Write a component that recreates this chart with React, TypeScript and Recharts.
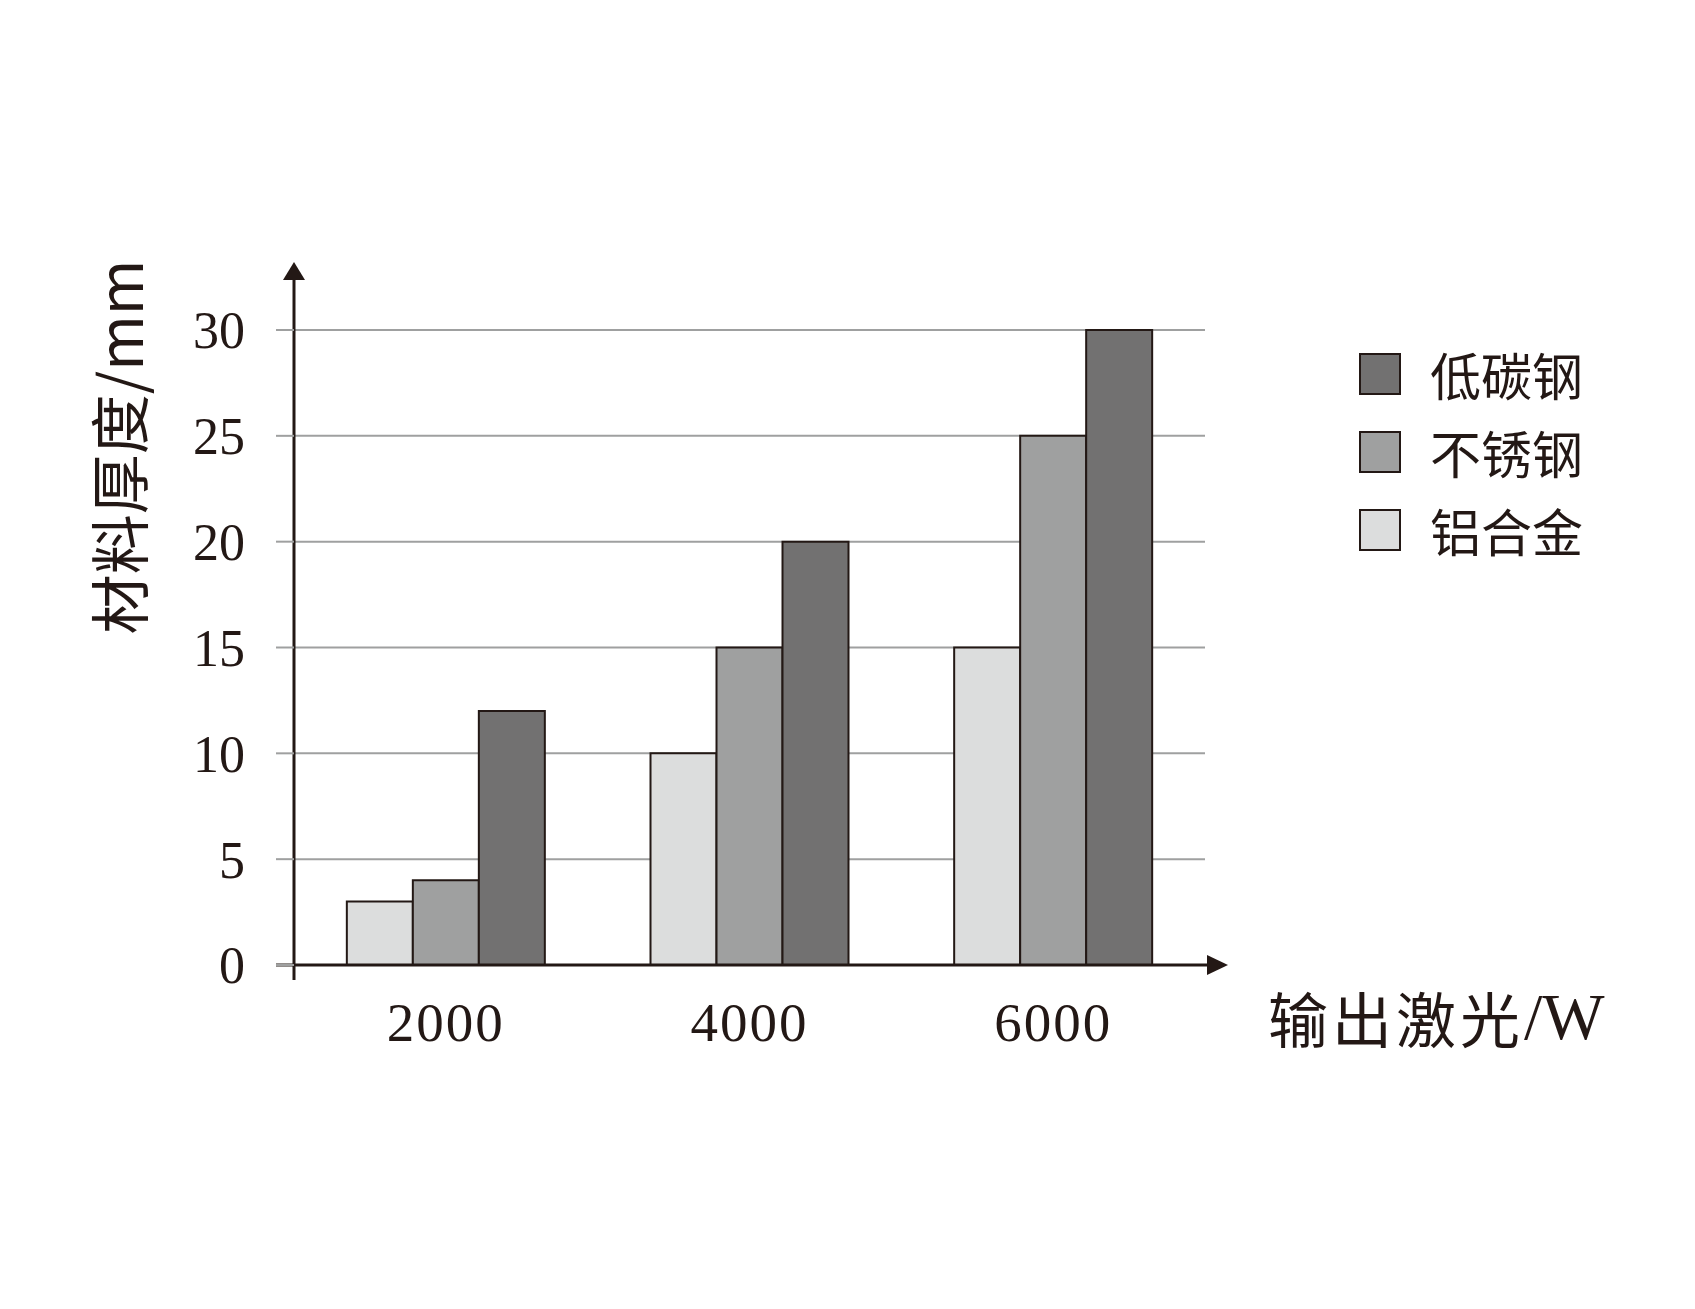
import React from 'react';
import { BarChart, Bar, XAxis, YAxis, CartesianGrid, Legend } from 'recharts';

// 输出功率（W）与各材料可切割厚度（mm）
const powers = ['2000', '4000', '6000'];
const aluminium = [3, 10, 15];
const stainless = [4, 15, 25];
const carbonSteel = [12, 20, 30];
const yTicks = [0, 5, 10, 15, 20, 25, 30];
const legendOrder = ['低碳钢', '不锈钢', '铝合金'];

const data = powers.map((p, i) => ({
  power: p,
  aluminium: aluminium[i],
  stainless: stainless[i],
  carbon: carbonSteel[i],
}));

const INK = '#231815';
const GRID = '#9fa0a0';
const CJK = '"Noto Sans CJK SC", "Noto Sans", sans-serif';
const SERIF = '"Liberation Serif", "DejaVu Serif", serif';

const renderLegend = (props: any) => {
  const items = [...(props.payload || [])].sort(
    (a: any, b: any) => legendOrder.indexOf(a.value) - legendOrder.indexOf(b.value)
  );
  return (
    <div style={{ display: 'flex', flexDirection: 'column', gap: 36 }}>
      {items.map((it: any) => (
        <div key={it.value} style={{ display: 'flex', alignItems: 'center', height: 42 }}>
          <span
            style={{
              width: 38,
              height: 38,
              background: it.color,
              border: `2px solid ${INK}`,
              display: 'inline-block',
            }}
          />
          <span style={{ marginLeft: 29, fontSize: 51, fontFamily: CJK, color: INK, lineHeight: '42px' }}>
            {it.value}
          </span>
        </div>
      ))}
    </div>
  );
};

const yTitle = (props: any) => {
  const vb = props.viewBox || {};
  const cx = vb.x + 22;
  const cy = vb.y + 117;
  return (
    <text
      x={cx}
      y={cy}
      transform={`rotate(-90 ${cx} ${cy})`}
      textAnchor="middle"
      dominantBaseline="central"
      fill={INK}
      fontSize={60}
      fontFamily={CJK}
    >
      材料厚度/mm
    </text>
  );
};

const xTitle = (props: any) => {
  const vb = props.viewBox || {};
  const x = vb.x + vb.width + 63;
  const y = vb.y + vb.height / 2 - 4;
  return (
    <text x={x} y={y} dominantBaseline="central" fill={INK} fontSize={60} fontFamily={CJK} letterSpacing={4}>
      输出激光
      <tspan fontFamily={SERIF} fontSize={66} letterSpacing={0}>/W</tspan>
    </text>
  );
};

export default function App() {
  return (
    <div style={{ position: 'absolute', left: 0, top: 0, width: 1695, height: 1309, background: '#fff' }}>
      {/* arrow heads and axis extensions */}
      <svg width={0} height={0} style={{ position: 'absolute' }}>
        <defs>
          <marker id="yTop" markerUnits="userSpaceOnUse" markerWidth={1} markerHeight={1} refX={0} refY={0} orient="0" overflow="visible">
            <path d="M0 0 V-52" stroke={INK} strokeWidth={3} fill="none" />
            <path d="M-11 -50 L11 -50 L0 -68 Z" fill={INK} />
          </marker>
          <marker id="yBottom" markerUnits="userSpaceOnUse" markerWidth={1} markerHeight={1} refX={0} refY={0} orient="0" overflow="visible">
            <path d="M0 0 V15" stroke={INK} strokeWidth={3} fill="none" />
          </marker>
          <marker id="xLeft" markerUnits="userSpaceOnUse" markerWidth={1} markerHeight={1} refX={0} refY={0} orient="0" overflow="visible">
            <path d="M0 0 H-18" stroke={INK} strokeWidth={3} fill="none" />
          </marker>
          <marker id="xRight" markerUnits="userSpaceOnUse" markerWidth={1} markerHeight={1} refX={0} refY={0} orient="0" overflow="visible">
            <path d="M0 0 H4" stroke={INK} strokeWidth={3} fill="none" />
            <path d="M2 -10 L2 10 L23 0 Z" fill={INK} />
          </marker>
        </defs>
      </svg>
      <BarChart
        width={1695}
        height={1309}
        data={data}
        margin={{ top: 330, right: 490, bottom: 234, left: 94 }}
        barCategoryGap="17.4%"
        barGap={0}
      >
        <CartesianGrid horizontal vertical={false} stroke={GRID} strokeWidth={2} />
        <XAxis
          dataKey="power"
          height={110}
          tickLine={false}
          tickSize={0}
          tickMargin={37}
          axisLine={{ stroke: INK, strokeWidth: 3, markerStart: 'url(#xLeft)', markerEnd: 'url(#xRight)' } as any}
          tick={{ fill: INK, fontSize: 55, fontFamily: SERIF, letterSpacing: 2 }}
          label={{ content: xTitle }}
        />
        <YAxis
          width={200}
          domain={[0, 30]}
          ticks={yTicks}
          interval={0}
          tickSize={18}
          tickMargin={31}
          tickLine={{ stroke: GRID, strokeWidth: 2 }}
          axisLine={{ stroke: INK, strokeWidth: 3, markerStart: 'url(#yTop)', markerEnd: 'url(#yBottom)' } as any}
          tick={{ fill: INK, fontSize: 52, fontFamily: SERIF }}
          label={{ content: yTitle }}
        />
        <Legend
          layout="vertical"
          align="center"
          verticalAlign="middle"
          content={renderLegend}
          wrapperStyle={{ position: 'absolute', left: 1359, top: 353, width: 'auto', height: 'auto' }}
        />
        <Bar dataKey="aluminium" name="铝合金" fill="#dcdddd" stroke={INK} strokeWidth={2} isAnimationActive={false} />
        <Bar dataKey="stainless" name="不锈钢" fill="#9fa0a0" stroke={INK} strokeWidth={2} isAnimationActive={false} />
        <Bar dataKey="carbon" name="低碳钢" fill="#727171" stroke={INK} strokeWidth={2} isAnimationActive={false} />
      </BarChart>
    </div>
  );
}
